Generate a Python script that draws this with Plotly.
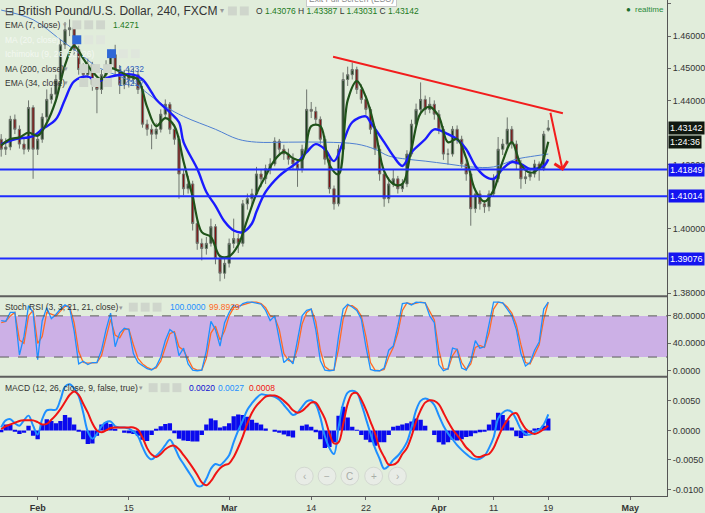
import plotly.graph_objects as go

# ---------------- DATA (4h GBPUSD, sampled ~2 candles per trading day) ----------------
open_ = [1.4279,1.4248,1.4255,1.4341,1.4310,1.4264,1.4248,1.4378,1.4248,1.4279,
 1.4348,1.4403,1.4419,1.4465,1.4573,1.4620,1.4626,1.4558,1.4496,1.4480,
 1.4511,1.4449,1.4434,1.4480,1.4511,1.4542,1.4496,1.4449,1.4480,1.4465,
 1.4480,1.4434,1.4326,1.4310,1.4295,1.4310,1.4357,1.4388,1.4310,1.4279,
 1.4171,1.4125,1.4140,1.4017,1.3955,1.3939,1.3955,1.4007,1.3908,1.3862,
 1.3893,1.3955,1.3970,1.3955,1.4078,1.4094,1.4109,1.4171,1.4156,1.4187,
 1.4202,1.4273,1.4248,1.4233,1.4217,1.4202,1.4187,1.4248,1.4372,1.4366,
 1.4341,1.4279,1.4217,1.4125,1.4078,1.4248,1.4465,1.4480,1.4496,1.4434,
 1.4403,1.4372,1.4310,1.4248,1.4171,1.4094,1.4140,1.4156,1.4125,1.4140,
 1.4233,1.4326,1.4372,1.4403,1.4372,1.4388,1.4357,1.4310,1.4233,1.4233,
 1.4310,1.4279,1.4202,1.4171,1.4063,1.4109,1.4078,1.4069,1.4109,1.4156,
 1.4248,1.4264,1.4310,1.4264,1.4202,1.4156,1.4162,1.4171,1.4202,1.4187,
 1.43076]
high = [1.4295,1.4282,1.4352,1.4356,1.4322,1.4280,1.4400,1.4385,1.4295,1.4360,
 1.4434,1.4440,1.4480,1.4590,1.4644,1.4652,1.4635,1.4570,1.4515,1.4530,
 1.4520,1.4465,1.4495,1.4525,1.4558,1.4573,1.4510,1.4495,1.4500,1.4500,
 1.4492,1.4445,1.4340,1.4325,1.4330,1.4372,1.4403,1.4395,1.4325,1.4290,
 1.4185,1.4165,1.4150,1.4030,1.3970,1.3975,1.4032,1.4015,1.3920,1.3910,
 1.3970,1.4032,1.3985,1.4090,1.4110,1.4125,1.4193,1.4185,1.4200,1.4220,
 1.4285,1.4280,1.4262,1.4250,1.4235,1.4215,1.4262,1.4434,1.4395,1.4380,
 1.4350,1.4290,1.4230,1.4135,1.4262,1.4487,1.4505,1.4518,1.4505,1.4450,
 1.4415,1.4380,1.4320,1.4260,1.4180,1.4160,1.4185,1.4165,1.4155,1.4245,
 1.4340,1.4390,1.4456,1.4415,1.4410,1.4400,1.4370,1.4320,1.4250,1.4320,
 1.4322,1.4290,1.4215,1.4180,1.4125,1.4120,1.4090,1.4120,1.4170,1.4286,
 1.4280,1.4347,1.4320,1.4275,1.4215,1.4180,1.4190,1.4215,1.4210,1.4305,
 1.43387]
low = [1.4225,1.4230,1.4245,1.4295,1.4250,1.4232,1.4240,1.4156,1.4230,1.4268,
 1.4335,1.4390,1.4405,1.4455,1.4560,1.4600,1.4540,1.4480,1.4462,1.4470,
 1.4430,1.4360,1.4420,1.4465,1.4500,1.4480,1.4420,1.4435,1.4440,1.4450,
 1.4420,1.4315,1.4290,1.4248,1.4280,1.4300,1.4345,1.4295,1.4262,1.4094,
 1.4105,1.4110,1.3995,1.3935,1.3902,1.3920,1.3945,1.3890,1.3837,1.3845,
 1.3880,1.3940,1.3925,1.3945,1.4060,1.4075,1.4100,1.4130,1.4140,1.4170,
 1.4195,1.4230,1.4215,1.4200,1.4185,1.4131,1.4175,1.4240,1.4345,1.4325,
 1.4265,1.4200,1.4110,1.4060,1.4070,1.4240,1.4445,1.4465,1.4420,1.4390,
 1.4355,1.4295,1.4230,1.4150,1.4069,1.4080,1.4130,1.4110,1.4115,1.4130,
 1.4225,1.4315,1.4360,1.4355,1.4360,1.4340,1.4295,1.4215,1.4200,1.4225,
 1.4265,1.4190,1.4150,1.4010,1.4050,1.4060,1.4050,1.4055,1.4100,1.4145,
 1.4230,1.4250,1.4250,1.4185,1.4125,1.4140,1.4150,1.4160,1.4150,1.4180,
 1.43031]
close = [1.4248,1.4255,1.4341,1.4310,1.4264,1.4248,1.4378,1.4248,1.4279,1.4348,
 1.4403,1.4419,1.4465,1.4573,1.4620,1.4626,1.4558,1.4496,1.4480,1.4511,
 1.4449,1.4434,1.4480,1.4511,1.4542,1.4496,1.4449,1.4480,1.4465,1.4480,
 1.4434,1.4326,1.4310,1.4295,1.4310,1.4357,1.4388,1.4310,1.4279,1.4171,
 1.4125,1.4140,1.4017,1.3955,1.3939,1.3955,1.4007,1.3908,1.3862,1.3893,
 1.3955,1.3970,1.3955,1.4078,1.4094,1.4109,1.4171,1.4156,1.4187,1.4202,
 1.4273,1.4248,1.4233,1.4217,1.4202,1.4187,1.4248,1.4372,1.4366,1.4341,
 1.4279,1.4217,1.4125,1.4078,1.4248,1.4465,1.4480,1.4496,1.4434,1.4403,
 1.4372,1.4310,1.4248,1.4171,1.4094,1.4140,1.4156,1.4125,1.4140,1.4233,
 1.4326,1.4372,1.4403,1.4372,1.4388,1.4357,1.4310,1.4233,1.4233,1.4310,
 1.4279,1.4202,1.4171,1.4063,1.4109,1.4078,1.4069,1.4109,1.4156,1.4248,
 1.4264,1.4310,1.4264,1.4202,1.4156,1.4162,1.4171,1.4202,1.4187,1.4295,
 1.43142]

ema7_idx = list(range(0, 121, 2))
ema7 = [1.4260,1.4280,1.4285,1.4300,1.4290,1.4330,1.4400,1.4510,1.4570,1.4530,
 1.4490,1.4465,1.4500,1.4490,1.4475,1.4465,1.4380,1.4320,1.4345,1.4320,
 1.4210,1.4100,1.3990,1.3975,1.3915,1.3915,1.3950,1.4030,1.4110,1.4165,
 1.4215,1.4240,1.4220,1.4215,1.4320,1.4320,1.4200,1.4170,1.4400,1.4460,
 1.4410,1.4310,1.4180,1.4140,1.4140,1.4250,1.4360,1.4380,1.4350,1.4270,
 1.4280,1.4220,1.4120,1.4085,1.4120,1.4210,1.4270,1.4200,1.4175,1.4190,
 1.4271]

ema34_idx = [0,3,7,9,12,14,16,19,21,24,29,31,33,34,37,39,40,43,45,47,49,51,53,55,56,58,61,63,65,67,69,71,73,75,77,80,81,84,86,88,90,93,95,98,100,102,104,106,108,110,112,114,116,119,120]
ema34 = [1.4264,1.4279,1.4289,1.4310,1.4341,1.4403,1.4459,1.4474,1.4459,1.4474,1.4480,1.4465,1.4425,1.4403,1.4363,1.4332,1.4270,1.4187,1.4115,1.4072,1.4023,1.3995,1.3990,1.4017,1.4054,1.4115,1.4165,1.4187,1.4208,1.4239,1.4264,1.4248,1.4211,1.4270,1.4332,1.4350,1.4332,1.4270,1.4227,1.4196,1.4239,1.4279,1.4310,1.4295,1.4279,1.4248,1.4196,1.4165,1.4156,1.4187,1.4208,1.4202,1.4187,1.4196,1.4217]

ma200_idx = [0,7,13,18,21,29,31,36,40,47,52,56,63,71,78,82,85,89,93,98,103,108,113,117,120]
ma200 = [1.4681,1.4651,1.4589,1.4537,1.4505,1.4456,1.4434,1.4381,1.4350,1.4310,1.4279,1.4270,1.4270,1.4270,1.4264,1.4248,1.4227,1.4217,1.4211,1.4202,1.4193,1.4193,1.4217,1.4227,1.4233]

levels = [1.41849, 1.41014, 1.39076]
trend_idx = [72.8, 123.2]
trend_px = [1.4536, 1.4360]
arrow_idx = [120.4, 123.2]
arrow_px = [1.4366, 1.4180]

stoch_k = [73,72,85,85,23,50,95,85,16,73,92,76,82,90,96,92,58,10,14,9,
 12,12,30,60,84,35,55,62,60,25,12,8,3,1,6,20,44,60,55,22,
 33,10,1,0,1,29,72,60,36,70,85,96,92,98,100,100,99,97,88,73,
 80,48,12,18,10,45,80,88,90,60,15,1,0,1,50,90,97,93,88,75,
 35,2,0,0,4,30,36,65,98,99,96,100,100,99,80,70,9,0,3,33,
 31,4,1,15,44,33,35,65,100,100,99,90,80,60,25,7,12,30,42,90,100]
stoch_d = [70,72,80,85,45,40,80,88,40,50,85,82,80,87,94,94,70,28,12,11,
 11,12,22,48,75,52,48,60,61,38,18,10,5,2,4,14,34,54,57,35,
 30,18,4,1,1,18,55,65,45,58,80,92,94,96,99,100,100,98,92,80,
 78,60,25,15,13,32,68,85,90,72,30,6,1,1,32,75,95,95,90,80,
 50,12,1,0,2,20,34,55,88,99,97,99,100,99,87,74,30,3,2,22,
 32,12,2,10,34,37,34,55,90,100,99,93,84,67,38,12,10,24,38,75,99.8929]

macd = [0.0005,0.0017,0.0019,0.0012,0.0008,0.0017,0.0025,0.0008,-0.0007,0.0019,
 0.0034,0.0035,0.0035,0.0052,0.0074,0.0078,0.0071,0.0058,0.0030,-0.0002,
 -0.0014,-0.0006,0.0007,0.0014,0.0015,0.0007,0.0005,0.0005,0.0003,-0.0002,
 -0.0010,-0.0028,-0.0043,-0.0049,-0.0043,-0.0035,-0.0025,-0.0016,-0.0028,-0.0045,
 -0.0057,-0.0069,-0.0081,-0.0094,-0.0094,-0.0082,-0.0065,-0.0057,-0.0059,-0.0052,
 -0.0042,-0.0020,0.0000,0.0017,0.0035,0.0046,0.0055,0.0061,0.0060,0.0059,
 0.0057,0.0052,0.0043,0.0034,0.0026,0.0030,0.0040,0.0049,0.0051,0.0044,
 0.0022,-0.0010,-0.0030,-0.0040,0.0005,0.0045,0.0064,0.0067,0.0064,0.0045,
 0.0020,-0.0005,-0.0030,-0.0048,-0.0065,-0.0060,-0.0050,-0.0043,-0.0033,-0.0020,
 0.0005,0.0034,0.0050,0.0054,0.0051,0.0043,0.0025,0.0008,-0.0005,-0.0015,
 -0.0025,-0.0033,-0.0040,-0.0046,-0.0049,-0.0048,-0.0043,-0.0030,-0.0012,0.0020,
 0.0030,0.0034,0.0031,0.0018,0.0002,-0.0006,-0.0007,-0.0003,0.0001,0.0010,
 0.0027]
signal = [0.0002,0.0007,0.0010,0.0013,0.0016,0.0017,0.0017,0.0017,0.0014,0.0010,
 0.0011,0.0018,0.0026,0.0036,0.0048,0.0060,0.0066,0.0060,0.0045,0.0030,
 0.0012,0.0000,-0.0003,0.0000,0.0004,0.0005,0.0005,0.0005,0.0005,0.0005,
 0.0001,-0.0012,-0.0030,-0.0041,-0.0045,-0.0040,-0.0032,-0.0027,-0.0026,-0.0032,
 -0.0042,-0.0052,-0.0063,-0.0075,-0.0088,-0.0093,-0.0086,-0.0074,-0.0064,-0.0059,
 -0.0056,-0.0045,-0.0029,-0.0010,0.0012,0.0030,0.0042,0.0050,0.0057,0.0059,
 0.0059,0.0056,0.0050,0.0043,0.0034,0.0030,0.0033,0.0040,0.0047,0.0047,
 0.0035,0.0020,-0.0005,-0.0022,-0.0020,0.0010,0.0045,0.0062,0.0063,0.0052,
 0.0035,0.0015,-0.0005,-0.0030,-0.0045,-0.0058,-0.0058,-0.0053,-0.0040,-0.0030,
 -0.0010,0.0015,0.0034,0.0047,0.0051,0.0050,0.0044,0.0030,0.0015,0.0002,
 -0.0008,-0.0018,-0.0029,-0.0036,-0.0044,-0.0045,-0.0042,-0.0040,-0.0030,-0.0012,
 0.0005,0.0017,0.0027,0.0029,0.0015,0.0003,-0.0003,-0.0006,-0.0003,0.0002,
 0.0008]
hist = [-0.0003,0.0010,0.0009,-0.0001,-0.0006,-0.0004,0.0008,-0.0009,-0.0015,0.0010,
 0.0019,0.0016,0.0012,0.0016,0.0026,0.0022,0.0010,-0.0002,-0.0015,-0.0023,
 -0.0022,-0.0009,0.0010,0.0014,0.0011,0.0002,0.0000,-0.0004,-0.0005,-0.0006,
 -0.0009,-0.0016,-0.0018,-0.0008,0.0002,0.0007,0.0011,0.0012,-0.0005,-0.0014,
 -0.0017,-0.0018,-0.0019,-0.0019,-0.0008,0.0010,0.0020,0.0017,0.0005,0.0007,
 0.0012,0.0024,0.0027,0.0026,0.0023,0.0018,0.0013,0.0010,0.0003,0.0000,
 -0.0002,-0.0004,-0.0007,-0.0010,-0.0012,0.0000,0.0008,0.0010,0.0006,-0.0003,
 -0.0015,-0.0030,-0.0028,-0.0020,0.0025,0.0040,0.0022,0.0006,0.0001,-0.0008,
 -0.0016,-0.0020,-0.0026,-0.0020,-0.0020,-0.0008,0.0006,0.0008,0.0010,0.0012,
 0.0015,0.0020,0.0018,0.0008,0.0000,-0.0008,-0.0020,-0.0024,-0.0020,-0.0016,
 -0.0017,-0.0015,-0.0011,-0.0010,-0.0005,-0.0003,-0.0001,0.0010,0.0018,0.0030,
 0.0026,0.0017,0.0005,-0.0010,-0.0013,-0.0009,-0.0004,0.0003,0.0004,0.0008,
 0.0020]

tick_idx = [8, 28, 50, 68, 80, 96, 108, 120, 138]
tick_text = ["<b>Feb</b>", "15", "<b>Mar</b>", "14", "22", "<b>Apr</b>", "11", "19", "<b>May</b>"]
# price ticks left visible (1.43/1.41/1.39 are covered by the price-scale markers)
price_ticks = [1.38, 1.40, 1.42, 1.44, 1.45, 1.46, 1.47]
stoch_ticks = [0, 40, 80]
macd_ticks = [-0.01, -0.005, 0.0, 0.005]

# ---------------- FIGURE ----------------
BG = "#e1eddb"
FONT = "Arial, Liberation Sans, sans-serif"
PW, PH = 673, 499

def fx(p):
    return p / PW

def fy(p):
    return 1 - p / PH

x = list(range(len(close)))
fig = go.Figure()

fig.add_trace(go.Scatter(x=ma200_idx, y=ma200, mode="lines", line=dict(color="#4f80d2", width=1, shape="spline"),
                         xaxis="x", yaxis="y", hoverinfo="skip", showlegend=False))
fig.add_trace(go.Scatter(x=ema34_idx, y=ema34, mode="lines", line=dict(color="#1a1aff", width=2.4, shape="spline"),
                         xaxis="x", yaxis="y", hoverinfo="skip", showlegend=False))
fig.add_trace(go.Candlestick(x=x, open=open_, high=high, low=low, close=close,
                             increasing=dict(fillcolor="#1b3d1b", line=dict(color="#6e756e", width=1)),
                             decreasing=dict(fillcolor="#7e1010", line=dict(color="#6e756e", width=1)),
                             whiskerwidth=0, xaxis="x", yaxis="y", hoverinfo="skip", showlegend=False))
fig.add_trace(go.Scatter(x=ema7_idx, y=ema7, mode="lines", line=dict(color="#1f531a", width=2.2, shape="spline"),
                         xaxis="x", yaxis="y", hoverinfo="skip", showlegend=False))
fig.add_trace(go.Scatter(x=trend_idx, y=trend_px, mode="lines", line=dict(color="#f21d1d", width=2),
                         xaxis="x", yaxis="y", hoverinfo="skip", showlegend=False))

# Stoch RSI
fig.add_trace(go.Scatter(x=x, y=stoch_d, mode="lines", line=dict(color="#ff6a26", width=1.3),
                         xaxis="x", yaxis="y2", hoverinfo="skip", showlegend=False))
fig.add_trace(go.Scatter(x=x, y=stoch_k, mode="lines", line=dict(color="#1e90ff", width=1.3),
                         xaxis="x", yaxis="y2", hoverinfo="skip", showlegend=False))

# MACD
fig.add_trace(go.Bar(x=x, y=hist, marker=dict(color="#0a0aee", line=dict(width=0)),
                     xaxis="x", yaxis="y3", hoverinfo="skip", showlegend=False))
fig.add_trace(go.Scatter(x=x, y=macd, mode="lines", line=dict(color="#1e8fff", width=2, shape="spline"),
                         xaxis="x", yaxis="y3", hoverinfo="skip", showlegend=False))
fig.add_trace(go.Scatter(x=x, y=signal, mode="lines", line=dict(color="#f01414", width=2, shape="spline"),
                         xaxis="x", yaxis="y3", hoverinfo="skip", showlegend=False))

shapes = []
shapes.append(dict(type="rect", xref="paper", x0=0, x1=1, yref="y2", y0=20, y1=80,
                   fillcolor="#ccb0e6", line=dict(width=0), layer="below"))
for v in (20, 80):
    shapes.append(dict(type="line", xref="paper", x0=0, x1=1, yref="y2", y0=v, y1=v,
                       line=dict(color="#5a5a5a", width=1, dash="dash")))
for lv in levels:
    shapes.append(dict(type="line", xref="paper", x0=0, x1=1, yref="y", y0=lv, y1=lv,
                       line=dict(color="#1f2cff", width=2)))
for sep in (298, 379):
    shapes.append(dict(type="line", xref="paper", x0=0, x1=1, yref="paper", y0=fy(sep), y1=fy(sep),
                       line=dict(color="#5e5e5e", width=2)))

annotations = []

def txt(px, py, text, size=8.5, color="#333333", **kw):
    annotations.append(dict(x=fx(px), y=fy(py), xref="paper", yref="paper", text=text, showarrow=False,
                            xanchor=kw.pop("xanchor", "left"), yanchor="middle",
                            font=dict(family=FONT, size=size, color=color), **kw))

def icons(px0, py, n=3, color="#cfd6cc", first=None):
    for k in range(n):
        c = first if (k == 0 and first) else color
        x0 = px0 + k * 12
        shapes.append(dict(type="rect", xref="paper", yref="paper", x0=fx(x0), x1=fx(x0 + 9),
                           y0=fy(py + 4.5), y1=fy(py - 4.5), fillcolor=c, line=dict(width=0)))

G = "#1c7a1c"
txt(3, 11, "⊟", size=11, color="#444")
txt(16, 11, "British Pound/U.S. Dollar, 240, FXCM", size=12, color="#333")
txt(220, 11, "▾", size=8, color="#999")
icons(230, 11, n=2)
txt(256, 11, ("O <span style='color:%s'>1.43076</span> H <span style='color:%s'>1.43387</span> "
              "L <span style='color:%s'>1.43031</span> C <span style='color:%s'>1.43142</span>") % (G, G, G, G),
    size=8.5, color="#333")
txt(3, 25, "EMA (7, close)", color="#333")
txt(62, 25, "▾", size=7, color="#999")
icons(73, 25)
txt(112, 25, "1.4271", color=G)
txt(3, 40, "MA (20, close)", color="#f3f8f1")
icons(73, 40, first="#2f68d6", color="#dfe6dc")
txt(3, 54, "Ichimoku (9, 26, 52, 26)", color="#f3f8f1")
icons(108, 54, first="#2f68d6", color="#dfe6dc")
txt(3, 69, "MA (200, close)", color="#333")
txt(63, 69, "▾", size=7, color="#999")
icons(80, 69)
txt(117, 69, "1.4232", color="#2f5fbf")
txt(3, 83, "EMA (34, close)", color="#333")
txt(63, 83, "▾", size=7, color="#999")
icons(80, 83)
txt(117, 83, "1.4217", color="#2f5fbf")

txt(634, 10, "●", size=8, color="#1d6e2d", xanchor="center")
txt(639, 10, "realtime", size=8, color="#2a8a3a")
annotations.append(dict(x=fx(355), y=fy(-1), xref="paper", yref="paper", text="Exit Full Screen (ESC)",
                        showarrow=False, xanchor="center", yanchor="middle", bgcolor="#ffffff",
                        bordercolor="#c8c8c8", borderwidth=1, borderpad=2,
                        font=dict(family=FONT, size=8.5, color="#8a8a8a")))

txt(3, 309, "Stoch RSI (3, 3, 21, 21, close)", color="#333")
txt(118, 309, "▾", size=7, color="#999")
icons(130, 309)
txt(170, 309, "100.0000", color="#1e90ff")
txt(209, 309, "99.8929", color="#ff6a26")
txt(3, 390, "MACD (12, 26, close, 9, false, true)", color="#333")
txt(138, 390, "▾", size=7, color="#999")
icons(150, 390)
txt(189, 390, "0.0020", color="#1010d0")
txt(218, 390, "0.0027", color="#1e8fff")
txt(249, 390, "0.0008", color="#f01414")

for cx, sym in zip([307, 330, 353, 377, 401], ["‹", "−", "C", "+", "›"]):
    shapes.append(dict(type="circle", xref="paper", yref="paper", x0=fx(cx - 9), x1=fx(cx + 9),
                       y0=fy(479 + 9), y1=fy(479 - 9), fillcolor="#e8ece6", line=dict(color="#d3d8d1", width=1)))
    txt(cx, 479, sym, size=10, color="#a8ada6", xanchor="center")

def box(yv, text, bg, yref="y", yshift=0):
    annotations.append(dict(x=1, y=yv, xref="paper", yref=yref, text=text, showarrow=False,
                            xanchor="left", yanchor="middle", xshift=1, yshift=yshift, bgcolor=bg, borderpad=1,
                            font=dict(family=FONT, size=9, color="#ffffff")))

box(close[-1], "1.43142", "#101810")
box(close[-1], "1:24:36", "#101810", yshift=-14)
for lv in levels:
    box(lv, "%.5f" % lv, "#1414f0")

annotations.append(dict(x=arrow_idx[1], y=arrow_px[1], ax=arrow_idx[0], ay=arrow_px[0],
                        xref="x", yref="y", axref="x", ayref="y", text="", showarrow=True,
                        arrowhead=4, arrowsize=1.3, arrowwidth=2, arrowcolor="#f21d1d"))

axis_common = dict(showgrid=False, zeroline=False, showline=True, linecolor="#555", linewidth=1,
                   ticks="outside", ticklen=3, tickcolor="#666", fixedrange=True,
                   tickfont=dict(family=FONT, size=9, color="#333"))

fig.update_layout(
    width=705, height=513,
    margin=dict(l=0, r=32, t=0, b=14),
    paper_bgcolor=BG, plot_bgcolor=BG,
    showlegend=False, bargap=0.05, hovermode=False,
    xaxis=dict(range=[-0.26, 146.04], tickvals=tick_idx, ticktext=tick_text, anchor="y3",
               rangeslider=dict(visible=False), **axis_common),
    yaxis=dict(domain=[fy(298), 1], range=[1.37906, 1.47124], side="right", anchor="x",
               tickvals=price_ticks, ticktext=["%.5f" % v for v in price_ticks], **axis_common),
    yaxis2=dict(domain=[fy(379), fy(298)], range=[-8.7, 108.7], side="right", anchor="x",
                tickvals=stoch_ticks, ticktext=["%.4f" % v for v in stoch_ticks], **axis_common),
    yaxis3=dict(domain=[0, fy(379)], range=[-0.01111, 0.00909], side="right", anchor="x",
                tickvals=macd_ticks, ticktext=["%.4f" % v for v in macd_ticks], **axis_common),
    shapes=shapes, annotations=annotations,
)

fig.write_html("out.html", config={"displayModeBar": False},
               post_script="document.body.style.margin='0px';document.body.style.overflow='hidden';")
